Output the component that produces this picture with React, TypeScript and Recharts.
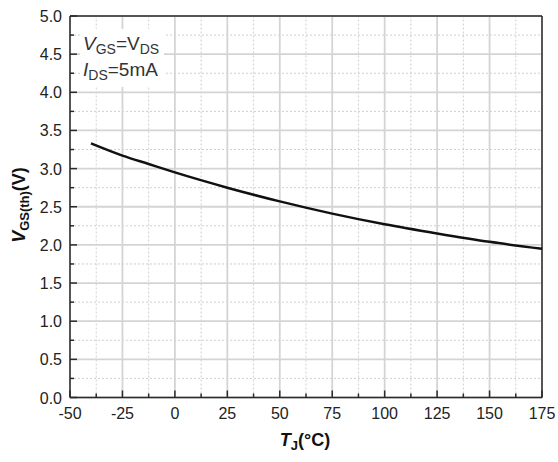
import React from "react";
import { LineChart, Line, XAxis, YAxis, ReferenceLine } from "recharts";

// junction temperature (°C) and threshold voltage (V)
const tempC = [-40, -25, -12.5, 0, 25, 50, 75, 100, 125, 150, 175];
const vgsTh = [3.33, 3.17, 3.06, 2.95, 2.75, 2.57, 2.41, 2.27, 2.15, 2.04, 1.95];

const xMajor = [-50, -25, 0, 25, 50, 75, 100, 125, 150, 175];
const xMinor = [-37.5, -12.5, 12.5, 37.5, 62.5, 87.5, 112.5, 137.5, 162.5];
const yMajor = [0, 0.5, 1, 1.5, 2, 2.5, 3, 3.5, 4, 4.5, 5];
const yMinor = [0.25, 0.75, 1.25, 1.75, 2.25, 2.75, 3.25, 3.75, 4.25, 4.75];

const W = 558;
const H = 462;
const LEFT = 70;
const TOP = 16;
const RIGHT = 16;
const BOTTOM = 64.5;
const PLOT_BOTTOM = H - BOTTOM;

const FONT = "'Liberation Sans', Arial, sans-serif";
const AXIS = "#2a2a2a";

const data = tempC.map((t, i) => ({ t, v: vgsTh[i] }));

const fmtY = (v: number) => v.toFixed(1);
const xTicks = [...xMajor, ...xMinor].sort((a, b) => a - b);
const yTicks = [...yMajor, ...yMinor].sort((a, b) => a - b);

function XTick(props: any) {
  const { x, payload } = props;
  const major = xMajor.includes(payload.value);
  return (
    <g>
      <line x1={x} x2={x} y1={PLOT_BOTTOM} y2={PLOT_BOTTOM - (major ? 7 : 4)} stroke={AXIS} strokeWidth={1.5} />
      {major && (
        <text x={x} y={PLOT_BOTTOM + 21} textAnchor="middle" fontSize={16} fill="#222" fontFamily={FONT}>
          {payload.value}
        </text>
      )}
    </g>
  );
}

function YTick(props: any) {
  const { y, payload } = props;
  const major = yMajor.includes(payload.value);
  return (
    <g>
      <line x1={LEFT} x2={LEFT + (major ? 7 : 4)} y1={y} y2={y} stroke={AXIS} strokeWidth={1.5} />
      {major && (
        <text x={LEFT - 8} y={y + 6} textAnchor="end" fontSize={16} fill="#222" fontFamily={FONT}>
          {fmtY(payload.value)}
        </text>
      )}
    </g>
  );
}

export default function App() {
  return (
    <div style={{ position: "absolute", left: 0, top: 0, width: W, height: H, background: "#fff" }}>
      <LineChart width={W} height={H} data={data} margin={{ top: TOP, right: RIGHT, bottom: 0, left: 0 }}>
        {xMinor.map((v) => (
          <ReferenceLine key={"xm" + v} x={v} stroke="#cfcfcf" strokeWidth={1} strokeDasharray="2 2" />
        ))}
        {yMinor.map((v) => (
          <ReferenceLine key={"ym" + v} y={v} stroke="#cfcfcf" strokeWidth={1} strokeDasharray="2 2" />
        ))}
        {xMajor.map((v) => (
          <ReferenceLine key={"xM" + v} x={v} stroke="#d4d4d4" strokeWidth={1.8} />
        ))}
        {yMajor.map((v) => (
          <ReferenceLine key={"yM" + v} y={v} stroke="#d4d4d4" strokeWidth={1.8} />
        ))}
        <ReferenceLine x={175} stroke={AXIS} strokeWidth={1.5} />
        <ReferenceLine y={5} stroke={AXIS} strokeWidth={1.5} />
        <XAxis
          dataKey="t"
          type="number"
          domain={[-50, 175]}
          ticks={xTicks}
          interval={0}
          height={BOTTOM}
          tickLine={false}
          axisLine={{ stroke: AXIS, strokeWidth: 1.5 }}
          tick={<XTick />}
        />
        <YAxis
          type="number"
          domain={[0, 5]}
          ticks={yTicks}
          interval={0}
          width={LEFT}
          tickLine={false}
          axisLine={{ stroke: AXIS, strokeWidth: 1.5 }}
          tick={<YTick />}
        />
        <Line
          type="monotone"
          dataKey="v"
          stroke="#111"
          strokeWidth={2.5}
          dot={false}
          isAnimationActive={false}
        />
        <text
          x={25}
          y={205}
          transform="rotate(-90, 25, 205)"
          textAnchor="middle"
          fontSize={18}
          fontWeight="bold"
          fill="#111"
          fontFamily={FONT}
        >
          <tspan fontStyle="italic">V</tspan>
          <tspan fontSize={13} dy={4}>GS(th)</tspan>
          <tspan dy={-4}>(V)</tspan>
        </text>
        <text x={305} y={446} textAnchor="middle" fontSize={18} fontWeight="bold" fill="#111" fontFamily={FONT}>
          <tspan fontStyle="italic">T</tspan>
          <tspan fontSize={13} dy={4}>J</tspan>
          <tspan dy={-4}>(°C)</tspan>
        </text>
      </LineChart>
      {/* test conditions, on a white box over the grid */}
      <svg
        width={W}
        height={H}
        style={{ position: "absolute", left: 0, top: 0, pointerEvents: "none" }}
      >
        <rect x={80} y={29} width={84} height={58} fill="#fff" />
        <text x={83} y={50} fontSize={19} fill="#333" fontFamily={FONT}>
          <tspan fontStyle="italic">V</tspan>
          <tspan fontSize={14} dy={4}>GS</tspan>
          <tspan dy={-4}>=V</tspan>
          <tspan fontSize={14} dy={4}>DS</tspan>
        </text>
        <text x={83} y={76} fontSize={19} fill="#333" fontFamily={FONT}>
          <tspan fontStyle="italic">I</tspan>
          <tspan fontSize={14} dy={4}>DS</tspan>
          <tspan dy={-4}>=5mA</tspan>
        </text>
      </svg>
    </div>
  );
}
